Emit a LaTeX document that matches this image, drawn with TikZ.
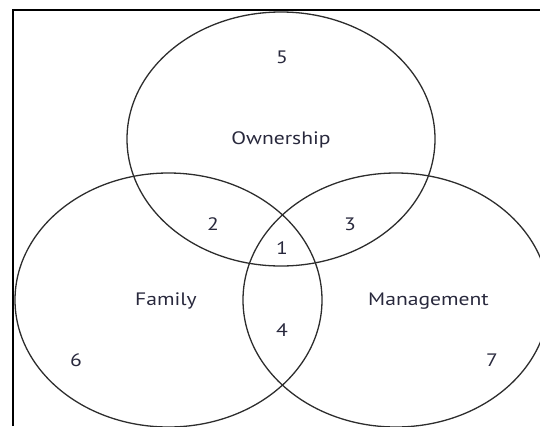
\documentclass[tikz,border=0pt]{standalone}
\usepackage{fontspec}
\setmainfont[FakeStretch=1.2]{PT Sans}
\begin{document}
\begin{tikzpicture}[x=1pt,y=-1pt,
  ring/.style={draw={rgb,255:red,45;green,45;blue,45},line width=1.3pt},
  frameline/.style={draw=black,line width=1.6pt},
  lbl/.style={text={rgb,255:red,40;green,40;blue,60},font=\fontsize{18}{20}\selectfont,inner sep=0pt}]
\useasboundingbox (0,0) rectangle (540,426);
\clip (0,0) rectangle (540,426);
\draw[frameline] (13,426) -- (13,10) -- (540,10);
\draw[ring] (281,139) ellipse [x radius=154, y radius=127];
\draw[ring] (168.5,300) ellipse [x radius=153.5, y radius=127];
\draw[ring] (396,300) ellipse [x radius=153, y radius=127];
\node[lbl] (n5) at (282,57) {5};
\node[lbl] (own) at (281,140) {Ownership};
\node[lbl] (n2) at (213,224) {2};
\node[lbl] (n3) at (350,224) {3};
\node[lbl] (n1) at (282,248) {1};
\node[lbl] (fam) at (166,301) {Family};
\node[lbl] (man) at (428.5,301) {Management};
\node[lbl] (n4) at (282,330) {4};
\node[lbl] (n6) at (76,360) {6};
\node[lbl] (n7) at (492,360) {7};
\end{tikzpicture}
\end{document}
